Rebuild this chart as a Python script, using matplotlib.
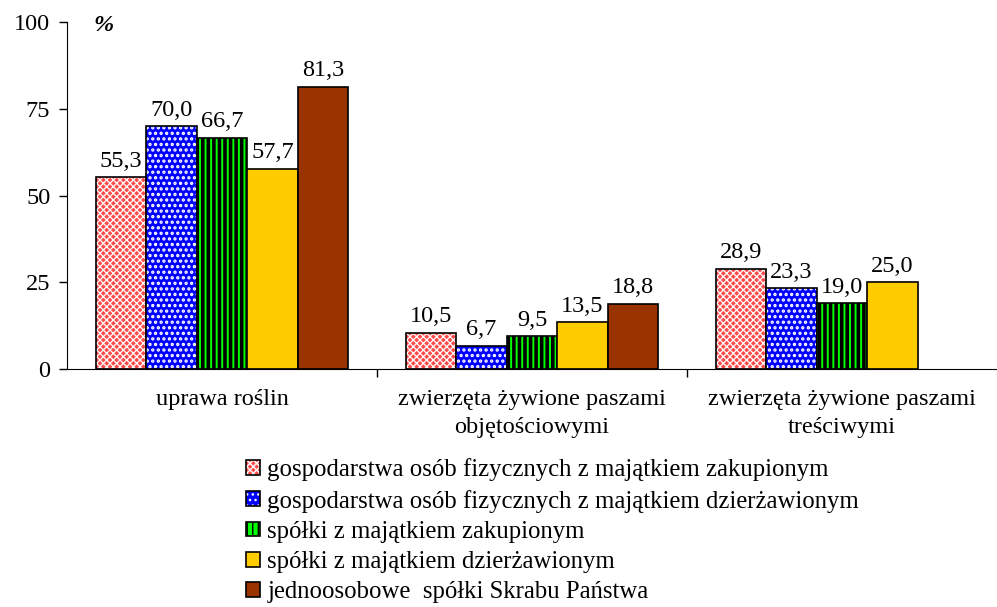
import matplotlib.pyplot as plt
import matplotlib as mpl
from matplotlib.patches import Patch
import numpy as np

plt.rcParams['font.family'] = ['Liberation Serif', 'DejaVu Serif']

categories = ['uprawa roślin',
              'zwierzęta żywione paszami\nobjętościowymi',
              'zwierzęta żywione paszami\ntreściwymi']
series = ['gospodarstwa osób fizycznych z majątkiem zakupionym',
          'gospodarstwa osób fizycznych z majątkiem dzierżawionym',
          'spółki z majątkiem zakupionym',
          'spółki z majątkiem dzierżawionym',
          'jednoosobowe  spółki Skrabu Państwa']
zakupione_fiz = [55.3, 10.5, 28.9]
dzierzawione_fiz = [70.0, 6.7, 23.3]
spolki_zak = [66.7, 9.5, 19.0]
spolki_dzierz = [57.7, 13.5, 25.0]
jednoosobowe = [81.3, 18.8, np.nan]
values = [zakupione_fiz, dzierzawione_fiz, spolki_zak, spolki_dzierz, jednoosobowe]

faces = ['#ff4a4a', '#0000ff', '#00ff00', '#ffcc00', '#993300']
hatches = ['xxxxx', '...', '|||', None, None]
hatch_cols = ['white', 'white', 'black', None, None]
hatch_lw = [0.9, 1.6, 2.6, 1.0, 1.0]

fig = plt.figure(figsize=(9.97, 6.07), dpi=100)
ax = fig.add_axes([0.0672, 0.392, 0.9328, 0.5718])

fs = 17.5
x = np.arange(len(categories))
w = 0.163
handles = []
for i, vals in enumerate(values):
    pos = x - 2 * w + i * w
    with mpl.rc_context({'hatch.linewidth': hatch_lw[i]}):
        if hatches[i]:
            ax.bar(pos, vals, w, color=faces[i], hatch=hatches[i],
                   edgecolor=hatch_cols[i], linewidth=0)
            h1 = Patch(facecolor=faces[i], hatch=hatches[i],
                       edgecolor=hatch_cols[i], linewidth=0)
        else:
            ax.bar(pos, vals, w, color=faces[i], linewidth=0)
            h1 = Patch(facecolor=faces[i], linewidth=0)
    ax.bar(pos, vals, w, fill=False, edgecolor='black', linewidth=1.2)
    h2 = Patch(fill=False, edgecolor='black', linewidth=1.2)
    handles.append((h1, h2))
    for p, v in zip(pos, vals):
        if not np.isnan(v):
            ax.annotate(f'{v:.1f}'.replace('.', ','), (p, v),
                        xytext=(0, 4), textcoords='offset points',
                        ha='center', va='bottom', fontsize=fs)

ax.set_ylim(0, 100)
ax.set_xlim(-0.5, 2.5)
ax.set_yticks([0, 25, 50, 75, 100])
ax.tick_params(axis='y', labelsize=fs, direction='out', length=6, width=1, pad=6)
ax.set_xticks(x)
ax.set_xticklabels(categories, fontsize=fs, linespacing=1.45)
ax.tick_params(axis='x', length=0, pad=14)
ax.set_xticks([0.5, 1.5], minor=True)
ax.tick_params(axis='x', which='minor', length=6, width=1)
for s in ['top', 'right']:
    ax.spines[s].set_visible(False)
ax.text(0.028, 0.99, '%', transform=ax.transAxes, fontsize=fs,
        fontstyle='italic', fontweight='bold', va='center', ha='left')

fig.legend(handles, series, loc='upper left', bbox_to_anchor=(0.237, 0.261),
           frameon=False, fontsize=17.8, handlelength=0.55, handleheight=0.55,
           handletextpad=0.3, labelspacing=0.33, borderaxespad=0)

fig.savefig('out.png', dpi=100)
